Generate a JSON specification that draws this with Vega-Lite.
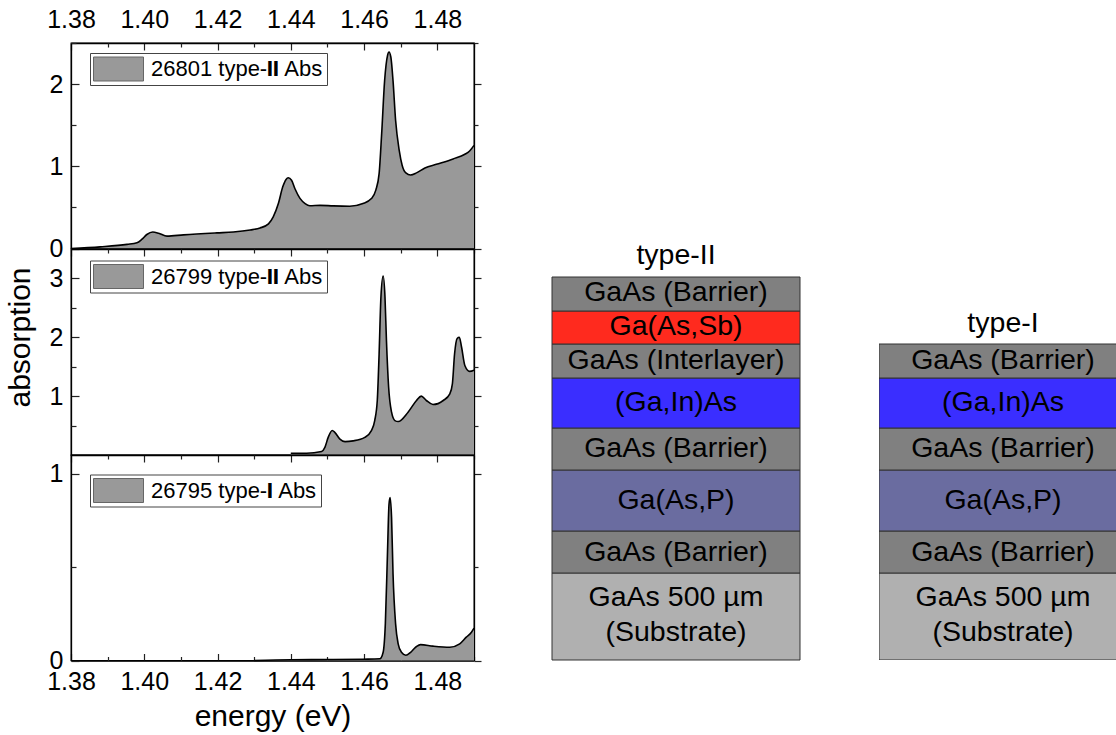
{
"$schema":"https://vega.github.io/schema/vega-lite/v6.json",
"background":"white",
"padding":{"left":4,"top":6,"right":0,"bottom":0},
"autosize":{"type":"pad"},
"config":{"font":"Liberation Sans","view":{"stroke":"#000","strokeWidth":1.3},"axis":{"grid":false,"title":null,"domainColor":"#000","tickColor":"#222","labelColor":"#000","titleColor":"#000","labelFont":"Liberation Sans","titleFont":"Liberation Sans","labelFontSize":25,"titleFontSize":30,"titleFontWeight":"normal","labelOverlap":false,"labelFlush":false,"tickWidth":1.2,"domainWidth":1.3,"zindex":1}},
"datasets":{
"a26801":[{"energy":1.38,"absorption":0},{"energy":1.388,"absorption":0.02},{"energy":1.3953,"absorption":0.05},{"energy":1.398,"absorption":0.07},{"energy":1.3993,"absorption":0.11},{"energy":1.4007,"absorption":0.17},{"energy":1.4023,"absorption":0.2},{"energy":1.4039,"absorption":0.186},{"energy":1.4062,"absorption":0.15},{"energy":1.4107,"absorption":0.166},{"energy":1.4198,"absorption":0.19},{"energy":1.4243,"absorption":0.2},{"energy":1.4289,"absorption":0.225},{"energy":1.4316,"absorption":0.25},{"energy":1.4339,"absorption":0.3},{"energy":1.4352,"absorption":0.385},{"energy":1.4366,"absorption":0.547},{"energy":1.4378,"absorption":0.75},{"energy":1.4387,"absorption":0.84},{"energy":1.4393,"absorption":0.86},{"energy":1.4402,"absorption":0.83},{"energy":1.4411,"absorption":0.73},{"energy":1.4425,"absorption":0.61},{"energy":1.4439,"absorption":0.547},{"energy":1.4452,"absorption":0.52},{"energy":1.448,"absorption":0.525},{"energy":1.4516,"absorption":0.518},{"energy":1.4561,"absorption":0.514},{"energy":1.4597,"absorption":0.547},{"energy":1.462,"absorption":0.607},{"energy":1.4632,"absorption":0.71},{"energy":1.4641,"absorption":0.91},{"energy":1.4648,"absorption":1.4},{"energy":1.4656,"absorption":2.04},{"energy":1.4664,"absorption":2.35},{"energy":1.4668,"absorption":2.39},{"energy":1.4673,"absorption":2.33},{"energy":1.4679,"absorption":2.04},{"energy":1.4686,"absorption":1.56},{"energy":1.4696,"absorption":1.19},{"energy":1.4704,"absorption":1.01},{"energy":1.4714,"absorption":0.92},{"energy":1.4727,"absorption":0.895},{"energy":1.4743,"absorption":0.92},{"energy":1.4766,"absorption":0.98},{"energy":1.4797,"absorption":1.024},{"energy":1.4843,"absorption":1.09},{"energy":1.4875,"absorption":1.146},{"energy":1.4888,"absorption":1.186},{"energy":1.49,"absorption":1.255}],
"a26799":[{"energy":1.44,"absorption":0.03},{"energy":1.4443,"absorption":0.03},{"energy":1.4484,"absorption":0.06},{"energy":1.4493,"absorption":0.13},{"energy":1.4502,"absorption":0.3},{"energy":1.4513,"absorption":0.415},{"energy":1.452,"absorption":0.386},{"energy":1.4534,"absorption":0.27},{"energy":1.4548,"absorption":0.227},{"energy":1.457,"absorption":0.24},{"energy":1.4602,"absorption":0.3},{"energy":1.462,"absorption":0.415},{"energy":1.4629,"absorption":0.585},{"energy":1.4636,"absorption":0.926},{"energy":1.4641,"absorption":1.72},{"energy":1.4646,"absorption":2.69},{"energy":1.4652,"absorption":3.04},{"energy":1.4657,"absorption":2.69},{"energy":1.4661,"absorption":1.95},{"energy":1.4667,"absorption":1.15},{"energy":1.4675,"absorption":0.727},{"energy":1.4684,"absorption":0.585},{"energy":1.4693,"absorption":0.568},{"energy":1.472,"absorption":0.727},{"energy":1.4743,"absorption":0.926},{"energy":1.4756,"absorption":1.0},{"energy":1.477,"absorption":0.926},{"energy":1.4788,"absorption":0.858},{"energy":1.4816,"absorption":0.926},{"energy":1.4834,"absorption":1.04},{"energy":1.4841,"absorption":1.21},{"energy":1.4847,"absorption":1.72},{"energy":1.4854,"absorption":1.98},{"energy":1.486,"absorption":2.0},{"energy":1.4866,"absorption":1.835},{"energy":1.4875,"absorption":1.52},{"energy":1.4888,"absorption":1.42},{"energy":1.49,"absorption":1.44}],
"a26795":[{"energy":1.43,"absorption":0},{"energy":1.44,"absorption":0.004},{"energy":1.4516,"absorption":0.005},{"energy":1.4597,"absorption":0.007},{"energy":1.4643,"absorption":0.009},{"energy":1.4652,"absorption":0.044},{"energy":1.4658,"absorption":0.196},{"energy":1.4664,"absorption":0.587},{"energy":1.4668,"absorption":0.836},{"energy":1.4671,"absorption":0.872},{"energy":1.4675,"absorption":0.765},{"energy":1.4679,"absorption":0.463},{"energy":1.4686,"absorption":0.196},{"energy":1.4693,"absorption":0.089},{"energy":1.4702,"absorption":0.044},{"energy":1.4714,"absorption":0.028},{"energy":1.4727,"absorption":0.044},{"energy":1.4743,"absorption":0.075},{"energy":1.4754,"absorption":0.085},{"energy":1.4788,"absorption":0.077},{"energy":1.4834,"absorption":0.071},{"energy":1.4861,"absorption":0.089},{"energy":1.4879,"absorption":0.125},{"energy":1.4893,"absorption":0.151},{"energy":1.49,"absorption":0.173}],
"typeII":[{"label":"GaAs 500 µm\n(Substrate)","material":"Substrate","bottom":0,"top":87,"mid":63},{"label":"GaAs (Barrier)","material":"Barrier","bottom":87,"top":129,"mid":108},{"label":"Ga(As,P)","material":"GaAsP","bottom":129,"top":190,"mid":160},{"label":"GaAs (Barrier)","material":"Barrier","bottom":190,"top":232,"mid":212},{"label":"(Ga,In)As","material":"InGaAs","bottom":232,"top":282,"mid":258},{"label":"GaAs (Interlayer)","material":"Barrier","bottom":282,"top":316,"mid":300},{"label":"Ga(As,Sb)","material":"GaAsSb","bottom":316,"top":349,"mid":334},{"label":"GaAs (Barrier)","material":"Barrier","bottom":349,"top":383,"mid":368}],
"typeI":[{"label":"GaAs 500 µm\n(Substrate)","material":"Substrate","bottom":0,"top":87,"mid":63},{"label":"GaAs (Barrier)","material":"Barrier","bottom":87,"top":129,"mid":108},{"label":"Ga(As,P)","material":"GaAsP","bottom":129,"top":190,"mid":160},{"label":"GaAs (Barrier)","material":"Barrier","bottom":190,"top":232,"mid":212},{"label":"(Ga,In)As","material":"InGaAs","bottom":232,"top":282,"mid":258},{"label":"GaAs (Barrier)","material":"Barrier","bottom":282,"top":316,"mid":300}]
},
"resolve":{"scale":{"color":"independent"},"legend":{"color":"independent"}},
"hconcat":[
{"resolve":{"scale":{"color":"independent"},"legend":{"color":"independent"}},"vconcat":[
{"width":403,"height":205.5,
"resolve":{"axis":{"x":"independent","y":"independent"}},
"layer":[
{"data":{"name":"a26801"},"mark":{"type":"area","interpolate":"monotone"},"encoding":{
"x":{"field":"energy","type":"quantitative","scale":{"domain":[1.38,1.49],"nice":false,"zero":false},"axis":{"orient":"top","values":[1.38,1.4,1.42,1.44,1.46,1.48],"format":".2f","tickSize":-7,"labelPadding":18}},
"y":{"field":"absorption","type":"quantitative","scale":{"domain":[0,2.5],"nice":false},"axis":{"orient":"left","values":[0,1,2],"format":"d","tickSize":-8,"labelPadding":16}},
"color":{"datum":"26801 type-II Abs","scale":{"range":["#999999"]},"legend":{"orient":"none","legendX":19,"legendY":10,"title":null,"strokeColor":"#444","padding":3,"symbolType":"M-1,-0.48H1V0.48H-1Z","symbolSize":2500,"symbolStrokeColor":"#666","symbolStrokeWidth":1,"symbolOpacity":1,"clipHeight":26,"labelFont":"Liberation Sans","labelFontSize":22,"labelOffset":7,"labelLimit":400,"labelColor":"#000"}}}},
{"data":{"name":"a26801"},"mark":{"type":"line","interpolate":"monotone","color":"#000","strokeWidth":1.6},"encoding":{
"x":{"field":"energy","type":"quantitative","scale":{"domain":[1.38,1.49],"nice":false,"zero":false},"axis":{"orient":"top","values":[1.39,1.41,1.43,1.45,1.47,1.49],"labels":false,"tickSize":-4,"domain":false}},
"y":{"field":"absorption","type":"quantitative","scale":{"domain":[0,2.5],"nice":false},"axis":{"orient":"left","values":[0.5,1.5,2.5],"labels":false,"tickSize":-5,"domain":false}}}},
{"data":{"values":[{"energy":1.4351,"absorption":2.184,"label":"II"}]},"mark":{"type":"text","fontWeight":"bold","fontSize":22,"font":"Liberation Sans","color":"#000"},"encoding":{
"text":{"field":"label"},
"x":{"field":"energy","type":"quantitative","scale":{"domain":[1.38,1.49],"nice":false,"zero":false},"axis":null},
"y":{"field":"absorption","type":"quantitative","scale":{"domain":[0,2.5],"nice":false},"axis":{"orient":"right","values":[0,1,2],"labels":false,"tickSize":7}}}},
{"data":{"name":"a26801"},"mark":{"type":"line","opacity":0},"encoding":{
"x":{"field":"energy","type":"quantitative","scale":{"domain":[1.38,1.49],"nice":false,"zero":false},"axis":null},
"y":{"field":"absorption","type":"quantitative","scale":{"domain":[0,2.5],"nice":false},"axis":{"orient":"right","values":[0.5,1.5,2.5],"labels":false,"tickSize":4,"domain":false}}}}
]},
{"width":403,"height":206,
"resolve":{"axis":{"x":"independent","y":"independent"}},
"layer":[
{"data":{"name":"a26799"},"mark":{"type":"area","interpolate":"monotone"},"encoding":{
"x":{"field":"energy","type":"quantitative","scale":{"domain":[1.38,1.49],"nice":false,"zero":false},"axis":{"orient":"top","values":[1.38,1.4,1.42,1.44,1.46,1.48],"labels":false,"tickSize":-7}},
"y":{"field":"absorption","type":"quantitative","scale":{"domain":[0,3.5],"nice":false},"axis":{"orient":"left","values":[1,2,3],"format":"d","tickSize":-8,"labelPadding":16,"title":"absorption","titleX":-36,"titleY":88}},
"color":{"datum":"26799 type-II Abs","scale":{"range":["#999999"]},"legend":{"orient":"none","legendX":19,"legendY":11.5,"title":null,"strokeColor":"#444","padding":3,"symbolType":"M-1,-0.48H1V0.48H-1Z","symbolSize":2500,"symbolStrokeColor":"#666","symbolStrokeWidth":1,"symbolOpacity":1,"clipHeight":26,"labelFont":"Liberation Sans","labelFontSize":22,"labelOffset":7,"labelLimit":400,"labelColor":"#000"}}}},
{"data":{"name":"a26799"},"mark":{"type":"line","interpolate":"monotone","color":"#000","strokeWidth":1.6},"encoding":{
"x":{"field":"energy","type":"quantitative","scale":{"domain":[1.38,1.49],"nice":false,"zero":false},"axis":{"orient":"top","values":[1.39,1.41,1.43,1.45,1.47,1.49],"labels":false,"tickSize":-4,"domain":false}},
"y":{"field":"absorption","type":"quantitative","scale":{"domain":[0,3.5],"nice":false},"axis":{"orient":"left","values":[0.5,1.5,2.5],"labels":false,"tickSize":-5,"domain":false}}}},
{"data":{"values":[{"energy":1.4351,"absorption":3.031,"label":"II"}]},"mark":{"type":"text","fontWeight":"bold","fontSize":22,"font":"Liberation Sans","color":"#000"},"encoding":{
"text":{"field":"label"},
"x":{"field":"energy","type":"quantitative","scale":{"domain":[1.38,1.49],"nice":false,"zero":false},"axis":null},
"y":{"field":"absorption","type":"quantitative","scale":{"domain":[0,3.5],"nice":false},"axis":{"orient":"right","values":[1,2,3],"labels":false,"tickSize":7}}}},
{"data":{"name":"a26799"},"mark":{"type":"line","opacity":0},"encoding":{
"x":{"field":"energy","type":"quantitative","scale":{"domain":[1.38,1.49],"nice":false,"zero":false},"axis":null},
"y":{"field":"absorption","type":"quantitative","scale":{"domain":[0,3.5],"nice":false},"axis":{"orient":"right","values":[0.5,1.5,2.5],"labels":false,"tickSize":4,"domain":false}}}}
]},
{"width":403,"height":205.5,
"resolve":{"axis":{"x":"independent","y":"independent"}},
"layer":[
{"data":{"name":"a26795"},"mark":{"type":"area","interpolate":"monotone"},"encoding":{
"x":{"field":"energy","type":"quantitative","scale":{"domain":[1.38,1.49],"nice":false,"zero":false},"axis":{"orient":"top","values":[1.38,1.4,1.42,1.44,1.46,1.48],"labels":false,"tickSize":-7}},
"y":{"field":"absorption","type":"quantitative","scale":{"domain":[0,1.1],"nice":false},"axis":{"orient":"left","values":[0,1],"format":"d","tickSize":-8,"labelPadding":16}},
"color":{"datum":"26795 type-I Abs","scale":{"range":["#999999"]},"legend":{"orient":"none","legendX":19,"legendY":19.5,"title":null,"strokeColor":"#444","padding":3,"symbolType":"M-1,-0.48H1V0.48H-1Z","symbolSize":2500,"symbolStrokeColor":"#666","symbolStrokeWidth":1,"symbolOpacity":1,"clipHeight":26,"labelFont":"Liberation Sans","labelFontSize":22,"labelOffset":7,"labelLimit":400,"labelColor":"#000"}}}},
{"data":{"name":"a26795"},"mark":{"type":"line","interpolate":"monotone","color":"#000","strokeWidth":1.6},"encoding":{
"x":{"field":"energy","type":"quantitative","scale":{"domain":[1.38,1.49],"nice":false,"zero":false},"axis":{"orient":"top","values":[1.39,1.41,1.43,1.45,1.47,1.49],"labels":false,"tickSize":-4,"domain":false}},
"y":{"field":"absorption","type":"quantitative","scale":{"domain":[0,1.1],"nice":false},"axis":{"orient":"left","values":[0.5],"labels":false,"tickSize":-5,"domain":false}}}},
{"data":{"values":[{"energy":1.4343,"absorption":0.907,"label":"I"}]},"mark":{"type":"text","fontWeight":"bold","fontSize":22,"font":"Liberation Sans","color":"#000"},"encoding":{
"text":{"field":"label"},
"x":{"field":"energy","type":"quantitative","scale":{"domain":[1.38,1.49],"nice":false,"zero":false},"axis":{"orient":"bottom","values":[1.38,1.4,1.42,1.44,1.46,1.48],"format":".2f","tickSize":-7,"labelPadding":16,"title":"energy (eV)","titlePadding":7}},
"y":{"field":"absorption","type":"quantitative","scale":{"domain":[0,1.1],"nice":false},"axis":{"orient":"right","values":[0,1],"labels":false,"tickSize":7}}}},
{"data":{"name":"a26795"},"mark":{"type":"line","opacity":0},"encoding":{
"x":{"field":"energy","type":"quantitative","scale":{"domain":[1.38,1.49],"nice":false,"zero":false},"axis":{"orient":"bottom","values":[1.39,1.41,1.43,1.45,1.47,1.49],"labels":false,"tickSize":-4,"domain":false}},
"y":{"field":"absorption","type":"quantitative","scale":{"domain":[0,1.1],"nice":false},"axis":{"orient":"right","values":[0.5],"labels":false,"tickSize":4,"domain":false}}}}
]}
],"spacing":0,"bounds":"flush"},
{"resolve":{"scale":{"color":"independent"},"legend":{"color":"independent"}},"hconcat":[
{"width":248,"height":617,"view":{"stroke":null},
"layer":[
{"data":{"name":"typeII"},"mark":{"type":"rect","stroke":"#333","strokeWidth":1},"encoding":{
"x":{"datum":0,"type":"quantitative","scale":{"domain":[0,1],"nice":false},"axis":null},
"x2":{"datum":1},
"y":{"field":"bottom","type":"quantitative","scale":{"domain":[0,617],"nice":false},"axis":null},
"y2":{"field":"top"},
"color":{"field":"material","type":"nominal","scale":{"domain":["Barrier","GaAsSb","InGaAs","GaAsP","Substrate"],"range":["#808080","#FF2A1E","#3A2EFF","#6A6CA0","#B0B0B0"]},"legend":null}}},
{"data":{"name":"typeII"},"mark":{"type":"text","fontSize":28.5,"font":"Liberation Sans","color":"#000","lineBreak":"\n","lineHeight":35},"encoding":{
"text":{"field":"label"},"x":{"datum":0.5,"type":"quantitative"},"y":{"field":"mid","type":"quantitative"}}},
{"data":{"values":[{"label":"type-II","mid":405}]},"mark":{"type":"text","fontSize":28.5,"font":"Liberation Sans","color":"#000"},"encoding":{
"text":{"field":"label"},"x":{"datum":0.5,"type":"quantitative"},"y":{"field":"mid","type":"quantitative"}}}
]},
{"width":237,"height":617,"view":{"stroke":null},
"layer":[
{"data":{"name":"typeI"},"mark":{"type":"rect","stroke":"#333","strokeWidth":1,"clip":true},"encoding":{
"x":{"datum":0,"type":"quantitative","scale":{"domain":[0,0.9556],"nice":false},"axis":null},
"x2":{"datum":1},
"y":{"field":"bottom","type":"quantitative","scale":{"domain":[0,617],"nice":false},"axis":null},
"y2":{"field":"top"},
"color":{"field":"material","type":"nominal","scale":{"domain":["Barrier","GaAsSb","InGaAs","GaAsP","Substrate"],"range":["#808080","#FF2A1E","#3A2EFF","#6A6CA0","#B0B0B0"]},"legend":null}}},
{"data":{"name":"typeI"},"mark":{"type":"text","fontSize":28.5,"font":"Liberation Sans","color":"#000","lineBreak":"\n","lineHeight":35},"encoding":{
"text":{"field":"label"},"x":{"datum":0.5,"type":"quantitative"},"y":{"field":"mid","type":"quantitative"}}},
{"data":{"values":[{"label":"type-I","mid":337}]},"mark":{"type":"text","fontSize":28.5,"font":"Liberation Sans","color":"#000"},"encoding":{
"text":{"field":"label"},"x":{"datum":0.5,"type":"quantitative"},"y":{"field":"mid","type":"quantitative"}}}
]}
],"spacing":78}
],
"spacing":68
}
